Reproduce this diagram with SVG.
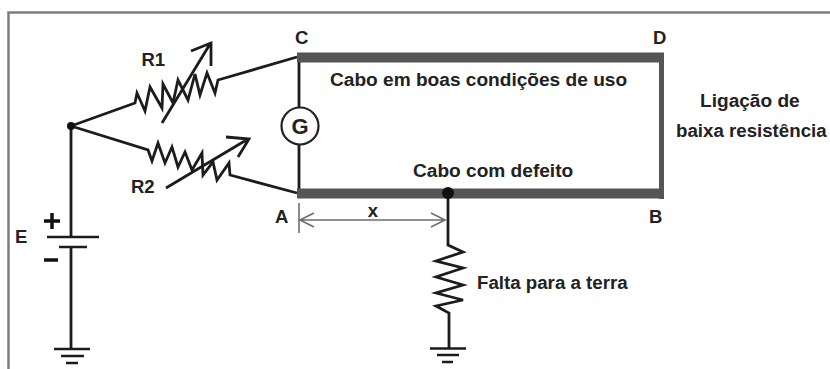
<svg xmlns="http://www.w3.org/2000/svg" width="830" height="369" viewBox="0 0 830 369">
<style>
text{font-family:"Liberation Sans",Arial,sans-serif;font-weight:700;font-size:18.500px;fill:#222}
.l{font-size:19.100px}
.m{font-size:18.700px}
.w{fill:none;stroke:#1c1c1c;stroke-width:2.800;stroke-linejoin:miter}
.d{fill:none;stroke:#6e6e6e;stroke-width:1.600}
.s{fill:none;stroke:#1c1c1c;stroke-width:2.600}
</style>
<rect width="830" height="369" fill="#fff"/>
<path d="M8.500 369V12.500H830" fill="none" stroke="#7d7d7d" stroke-width="2.500"/>
<g id="connectors">
<path class="w" d="M71 126L135 103L137 93L145 111L150 87L162 108L163 84L173 103L178 80L188 100L195 74L200 95L207 73L215 93L218 80L297 57"/>
<path class="w" d="M71 126L148 150L152 161L158 143L165 163L172 147L178 167L185 152L192 170L202 153L203 175L213 162L217 180L229 163L230 175L297 193"/>
<path class="w" d="M299 58V107M299 145V193"/>
<path class="w" d="M71 126V237M71 247V350"/>
<path class="w" d="M448 193V245L463 252L436 261L463 268L436 277L463 285L436 293L463 300L436 306L449 313V348"/>
</g>
<g id="cable">
<path d="M297 57.500H664M297 193.500H664" fill="none" stroke="#555" stroke-width="10"/>
<path d="M661.500 53V199" fill="none" stroke="#555" stroke-width="5"/>
</g>
<g id="r1"><path class="w" d="M162 123L210 44M191 51L211 43L211 66"/><text x="141.500" y="66">R1</text></g>
<g id="r2"><path class="w" d="M166 188L248 139M226 137L249 139L238 157"/><text x="131" y="193">R2</text></g>
<g id="g"><circle cx="300" cy="126" r="18.500" fill="#fff" stroke="#222" stroke-width="2.200"/><text x="300" y="134" text-anchor="middle" style="font-size:22px">G</text></g>
<g id="battery">
<path class="s" d="M47 237H99M59 247H87"/>
<path d="M44 221H60M52 213V229M44 260H58" fill="none" stroke="#111" stroke-width="3.500"/>
<text x="15" y="243">E</text>
</g>
<g id="ground1"><path class="s" d="M54 349H90M61 356H84M66 363H78"/></g>
<g id="ground2"><path class="s" d="M430 348.500H466M437 355H459M442 362H453"/></g>
<g id="fault"><circle cx="448" cy="193" r="6" fill="#111"/><text class="m" x="477" y="289">Falta para a terra</text></g>
<g id="node"><circle cx="71" cy="126" r="4" fill="#111"/></g>
<g id="dim">
<path class="d" d="M299 203V233"/>
<path class="d" d="M300 220H445M314 213L300 220L314 227M431 213L445 220L431 227"/>
<text x="373" y="217" text-anchor="middle">x</text>
</g>
<g id="labels">
<text x="295" y="44">C</text>
<text x="653" y="44">D</text>
<text x="275" y="223">A</text>
<text x="649" y="223">B</text>
<text class="l" x="330" y="86">Cabo em boas condições de uso</text>
<text class="l" x="413" y="177">Cabo com defeito</text>
<text class="l" x="700" y="107">Ligação de</text>
<text class="m" x="676" y="137">baixa resistência</text>
</g>
</svg>
